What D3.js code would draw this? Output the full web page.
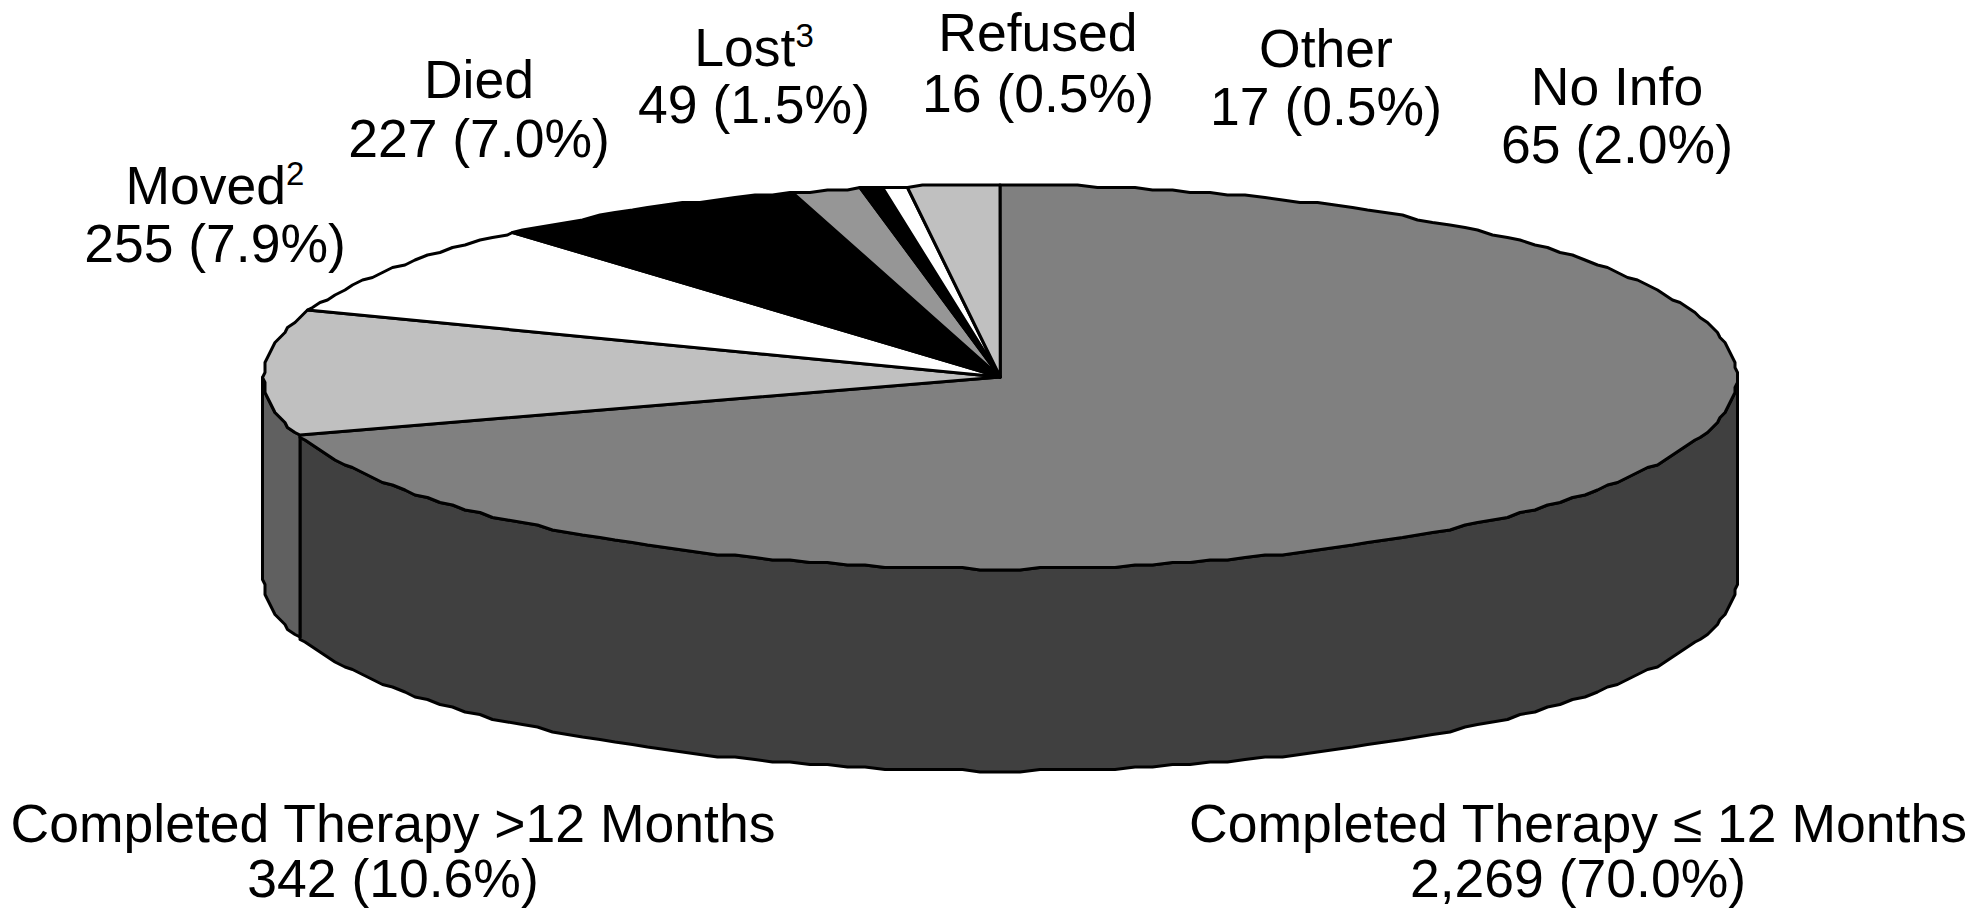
<!DOCTYPE html>
<meta charset="utf-8">
<style>
body { margin: 0; background: #fff; }
svg { display: block; }
.slice, .side { stroke: #000; stroke-width: 3px; stroke-linejoin: round; }
.label { font-family: "Liberation Sans", Arial, sans-serif; font-size: 53.5px; fill: #000; text-anchor: middle; }
</style>
<body>
<script src="https://d3js.org/d3.v7.min.js"></script>
<script>
var width = 1988,
    height = 909;

// clockwise from 12 o'clock
var categories = ["Completed Therapy \u2264 12 Months", "Completed Therapy >12 Months", "Moved", "Died", "Lost", "Refused", "Other", "No Info"];
var counts = [2269, 342, 255, 227, 49, 16, 17, 65];
var countLabels = ["2,269 (70.0%)", "342 (10.6%)", "255 (7.9%)", "227 (7.0%)", "49 (1.5%)", "16 (0.5%)", "17 (0.5%)", "65 (2.0%)"];
var footnotes = ["", "", "2", "", "3", "", "", ""];
var fills = ["#808080", "#c0c0c0", "#fff", "#000", "#969696", "#000", "#fff", "#c0c0c0"];
var sideFills = ["#404040", "#606060"];

// label layout: centre x, first baseline, second baseline
var labelX = [1578, 393, 215, 479, 754, 1038, 1326, 1617];
var labelY1 = [842, 842, 204, 98, 66, 51, 67, 105];
var labelY2 = [897, 897, 262, 157, 123, 112, 125, 163];

var x = d3.scaleLinear().domain([-1, 1]).range([263.5, 1737]);
var y = d3.scaleLinear().domain([-1, 1]).range([185, 569]);
var depth = 202;
var step = 2.5; // the original outline sits on a coarse grid, hence the wobble
var gridAngle = Math.PI / 120;

var svg = d3.select("body").append("svg")
    .attr("width", width)
    .attr("height", height);

function snap(v) {
  return Math.round(v / step) * step;
}

// point on the rim of the tilted disc, angle clockwise from the top
function rim(a, z) {
  return [snap(x(Math.sin(a))), snap(y(-Math.cos(a))) + (z || 0)];
}

// same angle grid everywhere so the wall and the top share their outline
function arcPoints(a0, a1, z) {
  var inner = d3.range(Math.floor(a0 / gridAngle) + 1, Math.ceil(a1 / gridAngle))
      .map(function(k) { return k * gridAngle; });
  return [a0].concat(inner, [a1]).map(function(a) { return rim(a, z); });
}

var line = d3.line();

var pie = d3.pie().sort(null).startAngle(0).endAngle(2 * Math.PI);
var arcs = pie(counts);

// visible wall: from the right edge round to the left edge, split where slice 1 ends
var wall = [
  [Math.PI / 2, arcs[0].endAngle, sideFills[0]],
  [arcs[0].endAngle, 3 * Math.PI / 2, sideFills[1]]
];

svg.selectAll("path.side")
    .data(wall)
  .enter().append("path")
    .attr("class", "side")
    .attr("fill", function(d) { return d[2]; })
    .attr("d", function(d) {
      return line(arcPoints(d[0], d[1], 0).concat(arcPoints(d[0], d[1], depth).reverse())) + "Z";
    });

var centre = [x(0), y(0)];

svg.selectAll("path.slice")
    .data(arcs)
  .enter().append("path")
    .attr("class", "slice")
    .attr("fill", function(d, i) { return fills[i]; })
    .attr("d", function(d) {
      return line([centre].concat(arcPoints(d.startAngle, d.endAngle, 0))) + "Z";
    });

var labels = svg.selectAll("g.label")
    .data(categories)
  .enter().append("g")
    .attr("class", "label");

var first = labels.append("text")
    .attr("class", "label")
    .attr("x", function(d, i) { return labelX[i]; })
    .attr("y", function(d, i) { return labelY1[i]; })
    .text(function(d) { return d; });

first.append("tspan")
    .attr("dy", -19)
    .style("font-size", "33px")
    .text(function(d, i) { return footnotes[i]; });

labels.append("text")
    .attr("class", "label")
    .attr("x", function(d, i) { return labelX[i]; })
    .attr("y", function(d, i) { return labelY2[i]; })
    .text(function(d, i) { return countLabels[i]; });
</script>
</body>
